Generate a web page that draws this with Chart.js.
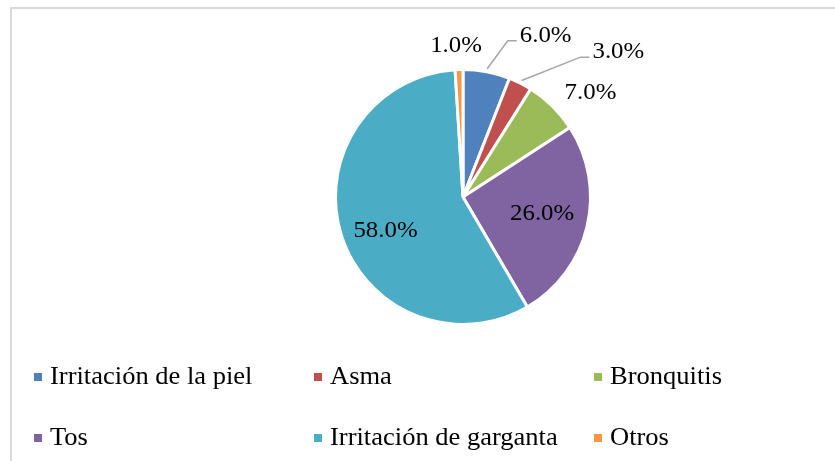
<!DOCTYPE html>
<html>
<head>
<meta charset="utf-8">
<script src="https://cdn.jsdelivr.net/npm/chart.js@4.4.0/dist/chart.umd.min.js"></script>
<style>
    html, body { margin: 0; padding: 0; background: #fff; }
    canvas { display: block; }
</style>
</head>
<body>
<canvas id="j_grafico_pie" width="835" height="461"></canvas>
<script>
var categorias = ["Irritación de la piel", "Asma", "Bronquitis", "Tos", "Irritación de garganta", "Otros"];
var porcentajes = [6, 3, 7, 26, 58, 1];
var colores = ["#4F81BD", "#C0504D", "#9BBB59", "#8064A2", "#4BACC6", "#F79646"];

// marco gris alrededor del grafico
var marcoPlugin = {
    id: "marco",
    beforeDraw: function (chart) {
        var ctx = chart.ctx;
        ctx.save();
        ctx.fillStyle = "#fff";
        ctx.fillRect(0, 0, chart.width, chart.height);
        ctx.strokeStyle = "#D9D9D9";
        ctx.lineWidth = 2;
        ctx.beginPath();
        ctx.moveTo(11, chart.height);
        ctx.lineTo(11, 8);
        ctx.lineTo(chart.width, 8);
        ctx.stroke();
        ctx.restore();
    },
};

// etiquetas de porcentaje sobre / fuera de cada sector
var etiquetasPlugin = {
    id: "etiquetas",
    afterDatasetsDraw: function (chart, args, opts) {
        var ctx = chart.ctx;
        var arcs = chart.getDatasetMeta(0).data;
        ctx.save();
        ctx.font = opts.fontSize + 'px "Liberation Serif", "Times New Roman", serif';
        ctx.fillStyle = "#000";
        ctx.textAlign = "center";
        ctx.textBaseline = "middle";
        arcs.forEach(function (arc, i) {
            var p = opts.posiciones[i];
            var a = arc.getProps(["x", "y", "startAngle", "endAngle", "outerRadius"], true);
            var ang = (a.startAngle + a.endAngle) / 2;
            var r = a.outerRadius * p.f;
            var tx = a.x + Math.cos(ang) * r + p.dx;
            var ty = a.y + Math.sin(ang) * r + p.dy;
            var texto = porcentajes[i].toFixed(1) + "%";

            if (p.guia) {
                var w = ctx.measureText(texto).width * opts.escalaX;
                var izq = tx - w / 2;
                ctx.strokeStyle = "#A6A6A6";
                ctx.lineWidth = 1.5;
                ctx.beginPath();
                ctx.moveTo(a.x + Math.cos(ang) * (a.outerRadius + 3), a.y + Math.sin(ang) * (a.outerRadius + 3));
                ctx.lineTo(izq - 12, ty + 5);
                ctx.lineTo(izq - 3, ty + 5);
                ctx.stroke();
            }

            ctx.save();
            ctx.translate(tx, ty);
            ctx.scale(opts.escalaX, 1);
            ctx.fillText(texto, 0, 0);
            ctx.restore();
        });
        ctx.restore();
    },
};

// leyenda en dos filas de tres columnas
var leyendaPlugin = {
    id: "leyenda",
    afterDraw: function (chart, args, opts) {
        var ctx = chart.ctx;
        ctx.save();
        ctx.font = opts.fontSize + 'px "Liberation Serif", "Times New Roman", serif';
        ctx.textAlign = "left";
        ctx.textBaseline = "alphabetic";
        categorias.forEach(function (nombre, i) {
            var x = opts.columnas[i % 3];
            var y = opts.filas[Math.floor(i / 3)];
            ctx.fillStyle = colores[i];
            ctx.fillRect(x, y - 4, 8, 8);
            ctx.fillStyle = "#000";
            ctx.save();
            ctx.translate(x + 16, y + 7);
            ctx.scale(opts.escalaX, 1);
            ctx.fillText(nombre, 0, 0);
            ctx.restore();
        });
        ctx.restore();
    },
};

var ctx1 = document.getElementById("j_grafico_pie");

new Chart(ctx1, {
    type: "pie",
    data: {
        labels: categorias,
        datasets: [
            {
                data: porcentajes,
                backgroundColor: colores,
                borderColor: "#fff",
                borderWidth: 3,
            },
        ],
    },
    options: {
        responsive: false,
        animation: false,
        devicePixelRatio: 1,
        layout: {
            padding: { left: 334, right: 243, top: 68, bottom: 135 },
        },
        plugins: {
            legend: { display: false },
            tooltip: { enabled: false },
            etiquetas: {
                fontSize: 23,
                escalaX: 1.08,
                posiciones: [
                    { f: 1, dx: 59, dy: -36, guia: true },
                    { f: 1, dx: 98, dy: -31, guia: true },
                    { f: 1, dx: 38, dy: -13 },
                    { f: 0.63, dx: 1, dy: -2 },
                    { f: 0.66, dx: 3, dy: 9 },
                    { f: 1, dx: -3, dy: -24 },
                ],
            },
            leyenda: {
                fontSize: 26,
                escalaX: 1.02,
                columnas: [34, 314, 594],
                filas: [377, 438],
            },
        },
    },
    plugins: [marcoPlugin, etiquetasPlugin, leyendaPlugin],
});
</script>
</body>
</html>
